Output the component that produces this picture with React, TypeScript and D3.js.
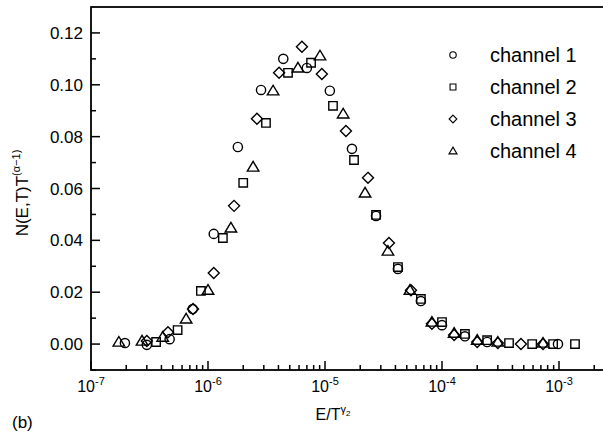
import React, { useEffect, useRef } from 'react';
import * as d3 from 'd3';

const W = 603;
const H = 435;

// Scaled distributions for the four detector channels
const ch1E = [1.95e-7, 3.0e-7, 4.7e-7, 7.4e-7, 1.12e-6, 1.8e-6, 2.84e-6, 4.4e-6, 7.0e-6, 1.1e-5, 1.7e-5, 2.73e-5, 4.2e-5, 6.6e-5, 1.0e-4, 1.57e-4, 2.43e-4, 9.8e-4];
const ch1N = [0.0004, -0.0003, 0.0019, 0.0135, 0.0425, 0.076, 0.098, 0.110, 0.1065, 0.0977, 0.0753, 0.0494, 0.029, 0.0166, 0.0073, 0.003, 0.0008, 0.0];

const ch2E = [3.6e-7, 5.5e-7, 8.7e-7, 1.34e-6, 2.0e-6, 3.13e-6, 4.83e-6, 7.6e-6, 1.17e-5, 1.77e-5, 2.73e-5, 4.2e-5, 6.6e-5, 1.0e-4, 1.57e-4, 2.43e-4, 3.74e-4, 5.9e-4, 8.9e-4, 1.37e-3];
const ch2N = [0.0008, 0.0054, 0.0205, 0.0409, 0.0622, 0.0853, 0.1046, 0.1085, 0.0919, 0.071, 0.0498, 0.0297, 0.0174, 0.0085, 0.0039, 0.0015, 0.0004, 0.0, 0.0, 0.0];

const ch3E = [3.0e-7, 4.55e-7, 7.45e-7, 1.12e-6, 1.67e-6, 2.62e-6, 4.05e-6, 6.35e-6, 9.4e-6, 1.51e-5, 2.33e-5, 3.52e-5, 5.43e-5, 8.2e-5, 1.27e-4, 2.0e-4, 3.0e-4, 4.73e-4, 7.3e-4];
const ch3N = [0.0012, 0.0046, 0.0135, 0.0274, 0.0533, 0.0869, 0.1046, 0.1147, 0.1042, 0.0822, 0.0641, 0.039, 0.0208, 0.0078, 0.0035, 0.0008, 0.0004, 0.0, 0.0];

const ch4E = [1.73e-7, 2.73e-7, 4.1e-7, 6.5e-7, 1.0e-6, 1.57e-6, 2.43e-6, 3.6e-6, 5.87e-6, 9.06e-6, 1.43e-5, 2.2e-5, 3.45e-5, 5.32e-5, 8.2e-5, 1.27e-4, 2.0e-4, 3.0e-4, 7.3e-4];
const ch4N = [0.0008, 0.0012, 0.0027, 0.0097, 0.0208, 0.0448, 0.0683, 0.0977, 0.1065, 0.1112, 0.0888, 0.0583, 0.0359, 0.0208, 0.0085, 0.0042, 0.0015, 0.0008, 0.0004];

const channelNames = ['channel 1', 'channel 2', 'channel 3', 'channel 4'];
const yTickValues = [0, 0.02, 0.04, 0.06, 0.08, 0.1, 0.12];
const yTickLabels = ['0.00', '0.02', '0.04', '0.06', '0.08', '0.10', '0.12'];
const xDecades = [-7, -6, -5, -4, -3];

const FONT = '"Liberation Sans", Arial, Helvetica, sans-serif';

type Shape = 'circle' | 'square' | 'diamond' | 'triangle';

function markerPath(shape: Shape, s: number): string {
  const p = d3.path();
  if (shape === 'circle') {
    const r = 4.6 * s;
    p.moveTo(r, 0);
    p.arc(0, 0, r, 0, Math.PI * 2);
  } else if (shape === 'square') {
    const h = 4.2 * s;
    p.rect(-h, -h, 2 * h, 2 * h);
  } else if (shape === 'diamond') {
    const h = 5.5 * s;
    p.moveTo(0, -h);
    p.lineTo(h, 0);
    p.lineTo(0, h);
    p.lineTo(-h, 0);
    p.closePath();
  } else {
    const a = 5.5 * s;
    p.moveTo(0, -a);
    p.lineTo(a * 1.05, a * 0.75);
    p.lineTo(-a * 1.05, a * 0.75);
    p.closePath();
  }
  return p.toString();
}

export default function App() {
  const ref = useRef<SVGSVGElement>(null);

  useEffect(() => {
    const svg = d3.select(ref.current);
    svg.selectAll('*').remove();

    const x = d3.scaleLog().domain([1e-7, Math.pow(10, -2.3)]).range([91, 91 + 117 * 4.7]);
    const y = d3.scaleLinear().domain([-0.01, 0.13]).range([370, 7]);

    const [x0] = x.range();
    const [yb, yt] = y.range();

    // frame
    svg.append('rect')
      .attr('x', x0).attr('y', yt)
      .attr('width', x.range()[1] - x0).attr('height', yb - yt)
      .attr('fill', 'none').attr('stroke', '#000').attr('stroke-width', 1.8);

    // y ticks
    const yMinor = d3.range(-0.01, 0.125, 0.02).map((v) => +v.toFixed(3));
    svg.append('g').selectAll('line').data(yMinor).join('line')
      .attr('x1', x0).attr('x2', x0 + 5)
      .attr('y1', (d) => y(d)).attr('y2', (d) => y(d))
      .attr('stroke', '#000').attr('stroke-width', 1.5);
    svg.append('g').selectAll('line').data(yTickValues).join('line')
      .attr('x1', x0).attr('x2', x0 + 9)
      .attr('y1', (d) => y(d)).attr('y2', (d) => y(d))
      .attr('stroke', '#000').attr('stroke-width', 1.5);
    svg.append('g').selectAll('text').data(yTickValues).join('text')
      .attr('x', x0 - 8).attr('y', (d) => y(d)).attr('dy', '0.36em')
      .attr('text-anchor', 'end')
      .attr('font-family', FONT).attr('font-size', 17)
      .text((d, i) => yTickLabels[i]);

    // x ticks
    const xMinor: number[] = [];
    for (let e = -7; e <= -3; e++) {
      for (let k = 2; k <= 9; k++) xMinor.push(k * Math.pow(10, e));
    }
    const xMax = x.domain()[1];
    svg.append('g').selectAll('line').data(xMinor.filter((v) => v < xMax)).join('line')
      .attr('x1', (d) => x(d)).attr('x2', (d) => x(d))
      .attr('y1', yb).attr('y2', yb - 5)
      .attr('stroke', '#000').attr('stroke-width', 1.5);
    svg.append('g').selectAll('line').data(xDecades).join('line')
      .attr('x1', (d) => x(Math.pow(10, d))).attr('x2', (d) => x(Math.pow(10, d)))
      .attr('y1', yb).attr('y2', yb - 9)
      .attr('stroke', '#000').attr('stroke-width', 1.5);
    const xl = svg.append('g').selectAll('text').data(xDecades).join('text')
      .attr('x', (d) => x(Math.pow(10, d))).attr('y', 392)
      .attr('text-anchor', 'middle')
      .attr('font-family', FONT).attr('font-size', 16);
    xl.append('tspan').text('10');
    xl.append('tspan').attr('dy', -7).attr('font-size', 11).text((d) => String(d));

    // axis titles
    const yt1 = svg.append('text')
      .attr('transform', 'translate(28,193) rotate(-90)')
      .attr('text-anchor', 'middle')
      .attr('font-family', FONT).attr('font-size', 17);
    yt1.append('tspan').text('N(E,T)T');
    yt1.append('tspan').attr('dy', -8).attr('font-size', 11).text('(α−1)');

    const xt = svg.append('text')
      .attr('x', 333).attr('y', 420)
      .attr('text-anchor', 'middle')
      .attr('font-family', FONT).attr('font-size', 16);
    xt.append('tspan').text('E/T');
    xt.append('tspan').attr('dy', -7).attr('font-size', 11).text('γ');
    xt.append('tspan').attr('dy', 3).attr('font-size', 8).text('2');

    svg.append('text')
      .attr('x', 12).attr('y', 428)
      .attr('font-family', FONT).attr('font-size', 17)
      .text('(b)');

    // data
    const series: { E: number[]; N: number[]; shape: Shape }[] = [
      { E: ch1E, N: ch1N, shape: 'circle' },
      { E: ch2E, N: ch2N, shape: 'square' },
      { E: ch3E, N: ch3N, shape: 'diamond' },
      { E: ch4E, N: ch4N, shape: 'triangle' },
    ];
    series.forEach((s) => {
      svg.append('g').selectAll('path').data(s.E.map((e, i) => [e, s.N[i]])).join('path')
        .attr('transform', (d) => `translate(${x(d[0])},${y(d[1])})`)
        .attr('d', markerPath(s.shape, 1))
        .attr('fill', 'none').attr('stroke', '#000').attr('stroke-width', 1.4);
    });

    // legend
    const lg = svg.append('g');
    series.forEach((s, i) => {
      const ly = 55 + i * 32;
      lg.append('path')
        .attr('transform', `translate(453,${ly})`)
        .attr('d', markerPath(s.shape, 0.7))
        .attr('fill', 'none').attr('stroke', '#000').attr('stroke-width', 1.1);
      lg.append('text')
        .attr('x', 490).attr('y', ly).attr('dy', '0.36em')
        .attr('font-family', FONT).attr('font-size', 20)
        .text(channelNames[i]);
    });
  }, []);

  return (
    <svg
      ref={ref}
      width={W}
      height={H}
      style={{ position: 'absolute', left: 0, top: 0, background: '#fff' }}
    />
  );
}
